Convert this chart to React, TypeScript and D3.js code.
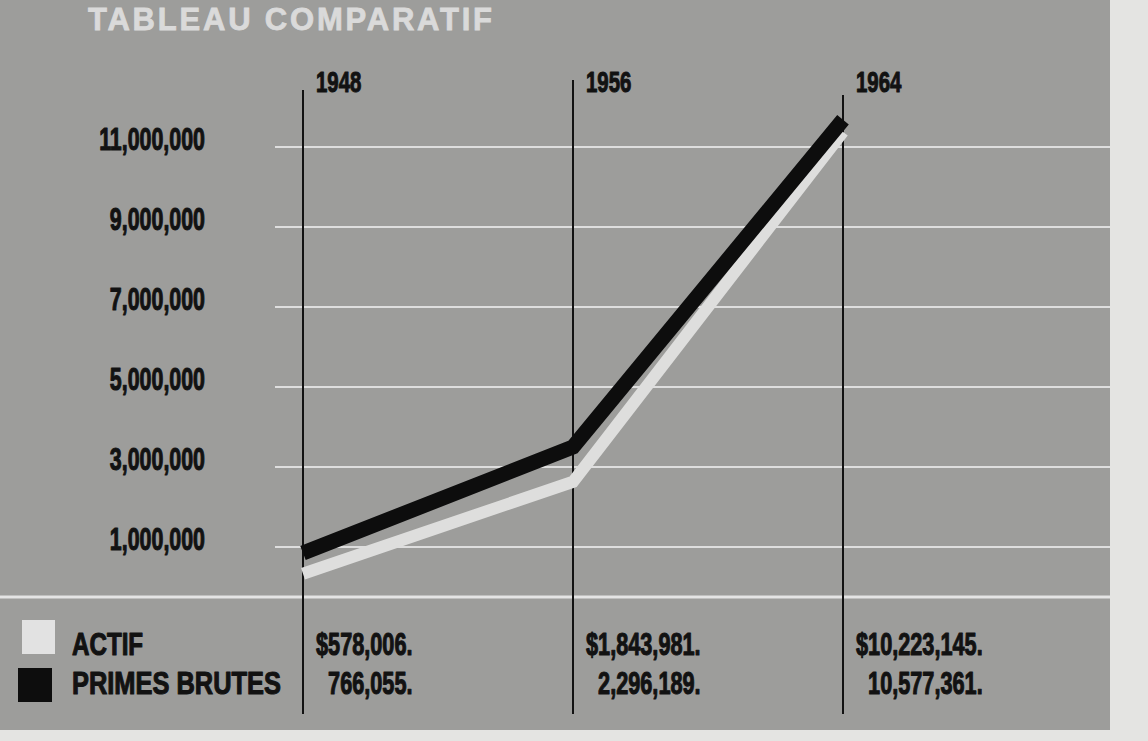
import React, { useEffect, useRef } from "react";
import * as d3 from "d3";

const title = "TABLEAU COMPARATIF";
const years = [1948, 1956, 1964];
const yTicks = [1000000, 3000000, 5000000, 7000000, 9000000, 11000000];
// values as drawn in the picture (plotted positions)
const actifPlot = [330000, 2630000, 11380000];
const primesPlot = [850000, 3500000, 11680000];
// values printed in the table under the chart
const actifText = ["$578,006.", "$1,843,981.", "$10,223,145."];
const primesText = ["766,055.", "2,296,189.", "10,577,361."];
const legendLabels = ["ACTIF", "PRIMES BRUTES"];

const W = 1148;
const H = 741;
const FONT = "'Liberation Sans', Arial, sans-serif";
const INK = "#121212";

export default function App() {
  const ref = useRef<SVGSVGElement | null>(null);

  useEffect(() => {
    const svg = d3.select(ref.current);
    svg.selectAll("*").remove();

    const x = d3.scaleLinear().domain([1948, 1964]).range([303, 843]);
    const y = d3.scaleLinear().domain([1000000, 11000000]).range([547, 147]);
    const zeroY = y(0) + 10;

    const inkText = (g: any, size: number) =>
      g
        .append("text")
        .attr("font-family", FONT)
        .attr("font-weight", "bold")
        .attr("font-size", size)
        .attr("fill", INK)
        .attr("stroke", INK)
        .attr("stroke-width", 1.1)
        .attr("stroke-linejoin", "round");

    // page background
    svg.append("rect").attr("width", W).attr("height", H).attr("fill", "#e4e4e2");
    // printed gray panel
    svg.append("rect").attr("x", 0).attr("y", 0).attr("width", 1110).attr("height", 730).attr("fill", "#9d9d9b");

    // title
    svg
      .append("text")
      .attr("x", 88)
      .attr("y", 30)
      .attr("font-family", FONT)
      .attr("font-weight", "bold")
      .attr("font-size", 31)
      .attr("letter-spacing", 2.8)
      .attr("fill", "#dadada")
      .attr("stroke", "#dadada")
      .attr("stroke-width", 0.8)
      .text(title);

    // horizontal gridlines
    svg
      .selectAll("line.grid")
      .data(yTicks)
      .join("line")
      .attr("class", "grid")
      .attr("x1", 275)
      .attr("x2", 1110)
      .attr("y1", (d) => y(d))
      .attr("y2", (d) => y(d))
      .attr("stroke", "#dedede")
      .attr("stroke-width", 2);

    // base line
    svg
      .append("line")
      .attr("x1", 0)
      .attr("x2", 1110)
      .attr("y1", zeroY)
      .attr("y2", zeroY)
      .attr("stroke", "#e4e4e4")
      .attr("stroke-width", 3);

    // y tick labels
    const fmt = d3.format(",");
    yTicks.forEach((t) => {
      const g = svg.append("g").attr("transform", `translate(205,${y(t) + 3}) scale(0.69,1)`);
      inkText(g, 31).attr("text-anchor", "end").text(fmt(t));
    });

    // vertical year lines and labels
    years.forEach((yr, i) => {
      const xx = x(yr);
      svg
        .append("line")
        .attr("x1", xx)
        .attr("x2", xx)
        .attr("y1", i === 1 ? 80 : i === 2 ? 95 : 90)
        .attr("y2", 714)
        .attr("stroke", INK)
        .attr("stroke-width", 2);
      const g = svg.append("g").attr("transform", `translate(${xx + 13},${92}) scale(0.68,1)`);
      inkText(g, 30).text(String(yr));
    });

    // series lines
    const line = d3
      .line<number>()
      .x((_, i) => x(years[i]))
      .y((d) => y(d));

    svg
      .append("path")
      .attr("d", line(actifPlot))
      .attr("fill", "none")
      .attr("stroke", "#dededd")
      .attr("stroke-width", 12)
      .attr("stroke-linejoin", "miter");

    svg
      .append("path")
      .attr("d", line(primesPlot))
      .attr("fill", "none")
      .attr("stroke", "#0d0d0d")
      .attr("stroke-width", 15)
      .attr("stroke-linejoin", "miter");

    // legend
    svg.append("rect").attr("x", 22).attr("y", 620).attr("width", 33).attr("height", 34).attr("fill", "#e2e2e2");
    svg.append("rect").attr("x", 18).attr("y", 668).attr("width", 34).attr("height", 34).attr("fill", "#0d0d0d");

    const rowY = [655, 694];
    legendLabels.forEach((lab, i) => {
      const g = svg.append("g").attr("transform", `translate(72,${rowY[i]}) scale(${i === 0 ? 0.78 : 0.82},1)`);
      inkText(g, 31).text(lab);
    });

    // table values
    const sx = 0.7;
    years.forEach((yr, i) => {
      const left = x(yr) + 13;
      const g1 = svg.append("g").attr("transform", `translate(${left},${rowY[0]}) scale(${sx},1)`);
      const t1 = inkText(g1, 31).text(actifText[i]);
      const w = (t1.node() as SVGTextElement).getBBox().width * sx;
      const g2 = svg.append("g").attr("transform", `translate(${left + w},${rowY[1]}) scale(${sx},1)`);
      inkText(g2, 31).attr("text-anchor", "end").text(primesText[i]);
    });
  }, []);

  return (
    <svg
      ref={ref}
      width={W}
      height={H}
      style={{ position: "absolute", left: 0, top: 0, display: "block" }}
    />
  );
}
